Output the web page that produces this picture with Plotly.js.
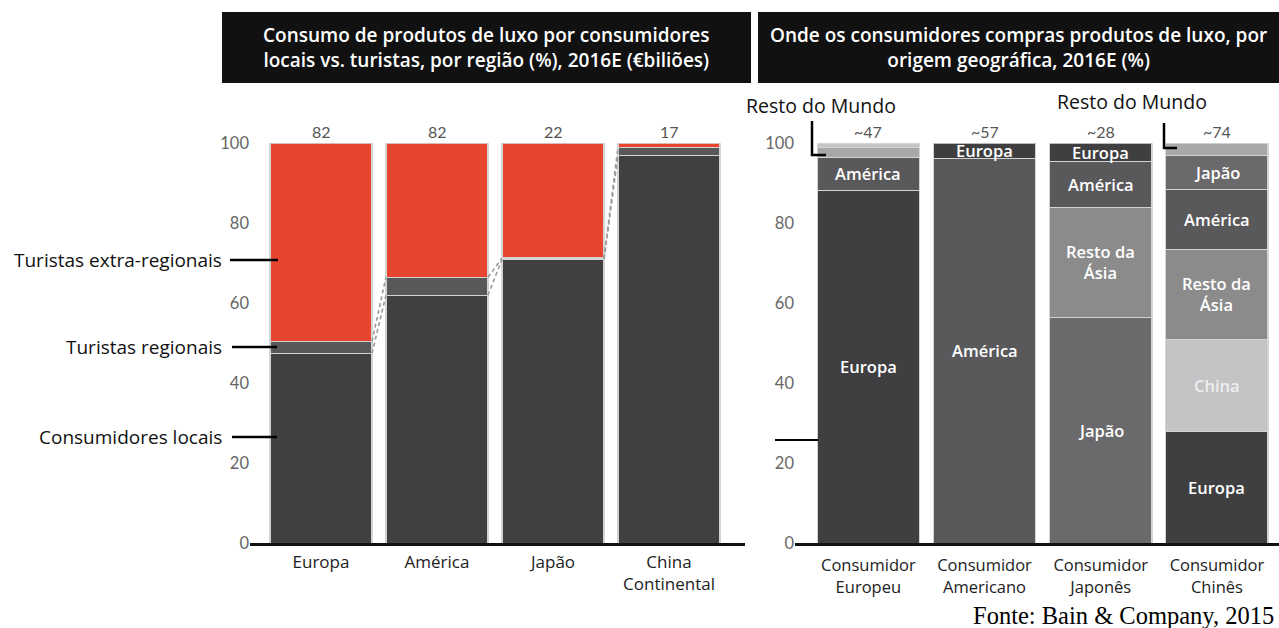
<!DOCTYPE html>
<html>
<head>
<meta charset="utf-8">
<script src="https://cdn.plot.ly/plotly-3.0.1.min.js"></script>
<style>html,body{margin:0;padding:0;background:#fff;}#chart{width:1279px;height:628px;}</style>
</head>
<body>
<div id="chart"></div>
<script>
// ---------- DATA ----------
// Left panel: consumption by local consumers vs tourists, by region (%)
const regions = ['Europa', 'América', 'Japão', 'China<br>Continental'];
const localShare = [47.5, 62, 71, 97];
const regionalShare = [3, 4.5, 0.3, 2];
const extraRegionalShare = [49.5, 33.5, 28.7, 1];
const regionTotals = [82, 82, 22, 17]; // €bn

// Right panel: where consumers buy, by geographic origin (%), bottom -> top
const consumers = ['Consumidor<br>Europeu', 'Consumidor<br>Americano', 'Consumidor<br>Japonês', 'Consumidor<br>Chinês'];
const consumerTotals = [47, 57, 28, 74]; // ~€bn
const europeuRegions = ['Europa', 'América', 'Resto do Mundo', 'China'];
const europeuShares = [88.2, 8.3, 2.5, 1];
const americanoRegions = ['América', 'Europa'];
const americanoShares = [96.2, 3.8];
const japonesRegions = ['Japão', 'Resto da Ásia', 'América', 'Europa'];
const japonesShares = [56.5, 27.5, 11.5, 4.5];
const chinesRegions = ['Europa', 'China', 'Resto da Ásia', 'América', 'Japão', 'Resto do Mundo'];
const chinesShares = [28, 23, 22.5, 15, 8.5, 3];

// ---------- STYLE ----------
const W = 1279, H = 628;
const px = x => x / W;
const py = y => 1 - y / H;
const BAR_W = 0.88;
const FONT = 'Open Sans, Noto Sans, sans-serif';
const NUMFONT = 'Lato, Open Sans, sans-serif';
const SEP = {color: '#d4d4d4', width: 1.3};
const regionColor = {
  'Europa': '#3f3f41',
  'América': '#59595b',
  'Japão': '#6a6a6c',
  'Resto da Ásia': '#8b8b8b',
  'China': '#c4c4c6',
  'Resto do Mundo': '#a8a8a8'
};
const labelText = {'Resto da Ásia': 'Resto da<br>Ásia'};
const labelColor = {'China': '#eeeeee'};

const idx = regions.map((_, i) => i);
const traces = [];

// Left stacked bars
[[localShare, '#404042', 'Consumidores locais'],
 [regionalShare, '#58585a', 'Turistas regionais'],
 [extraRegionalShare, '#e8452f', 'Turistas extra-regionais']].forEach(([vals, col, name]) => {
  traces.push({type: 'bar', x: idx, y: vals, width: BAR_W, name: name,
    marker: {color: col, line: SEP}, xaxis: 'x', yaxis: 'y', hoverinfo: 'skip'});
});

// Dashed connectors between consecutive bars (local top and regional top)
const cumLocal = localShare.slice();
const cumReg = localShare.map((v, i) => v + regionalShare[i]);
[cumLocal, cumReg].forEach(cum => {
  const xs = [], ys = [];
  for (let i = 0; i < cum.length - 1; i++) {
    xs.push(i + BAR_W / 2, i + 1 - BAR_W / 2, null);
    ys.push(cum[i], cum[i + 1], null);
  }
  traces.push({type: 'scatter', mode: 'lines', x: xs, y: ys, xaxis: 'x', yaxis: 'y',
    line: {color: '#9a9a9a', width: 1.6, dash: '4px,3px'}, hoverinfo: 'skip', connectgaps: false});
});

// Right stacked bars
const annotations = [];
const rightSets = [
  [europeuRegions, europeuShares],
  [americanoRegions, americanoShares],
  [japonesRegions, japonesShares],
  [chinesRegions, chinesShares]
];
rightSets.forEach(([regs, shares], ci) => {
  let base = 0;
  regs.forEach((r, j) => {
    traces.push({type: 'bar', x: [ci], y: [shares[j]], width: BAR_W, name: r,
      marker: {color: regionColor[r], line: SEP}, xaxis: 'x2', yaxis: 'y2', hoverinfo: 'skip'});
    if (shares[j] >= 3.5) {
      annotations.push({xref: 'x2', yref: 'y2', x: ci, y: base + shares[j] / 2,
        text: labelText[r] || r, showarrow: false,
        font: {family: FONT, size: 16.5, color: labelColor[r] || '#ffffff', weight: 600}});
    }
    base += shares[j];
  });
});

// Totals above bars
regionTotals.forEach((t, i) => annotations.push({xref: 'x', yref: 'y', x: i, y: 100, yanchor: 'bottom', yshift: 0,
  text: String(t), showarrow: false, font: {family: NUMFONT, size: 16, color: '#555'}}));
consumerTotals.forEach((t, i) => annotations.push({xref: 'x2', yref: 'y2', x: i, y: 100, yanchor: 'bottom', yshift: 0,
  text: '~' + t, showarrow: false, font: {family: NUMFONT, size: 16, color: '#555'}}));

// Titles
annotations.push({xref: 'paper', yref: 'paper', x: px(486), y: py(47.5), xanchor: 'center', yanchor: 'middle',
  text: 'Consumo de produtos de luxo por consumidores<br>locais vs. turistas, por região (%), 2016E (€biliões)',
  showarrow: false, align: 'center', font: {family: FONT, size: 19, color: '#ffffff', weight: 600}});
annotations.push({xref: 'paper', yref: 'paper', x: px(1018), y: py(47.5), xanchor: 'center', yanchor: 'middle',
  text: 'Onde os consumidores compras produtos de luxo, por<br>origem geográfica, 2016E (%)',
  showarrow: false, align: 'center', font: {family: FONT, size: 19, color: '#ffffff', weight: 600}});

// Left callout labels
[['Turistas extra-regionais', 260], ['Turistas regionais', 347], ['Consumidores locais', 437]].forEach(([t, y]) => {
  annotations.push({xref: 'paper', yref: 'paper', x: px(224), y: py(y), xanchor: 'right', yanchor: 'middle',
    text: t, showarrow: false, font: {family: FONT, size: 19, color: '#111'}});
});
// Right callouts
annotations.push({xref: 'paper', yref: 'paper', x: px(821), y: py(105), xanchor: 'center', yanchor: 'middle',
  text: 'Resto do Mundo', showarrow: false, font: {family: FONT, size: 19.5, color: '#111'}});
annotations.push({xref: 'paper', yref: 'paper', x: px(1132), y: py(101), xanchor: 'center', yanchor: 'middle',
  text: 'Resto do Mundo', showarrow: false, font: {family: FONT, size: 19.5, color: '#111'}});
// Source
annotations.push({xref: 'paper', yref: 'paper', x: px(1276), y: py(615), xanchor: 'right', yanchor: 'middle',
  text: 'Fonte: Bain &amp; Company, 2015', showarrow: false,
  font: {family: 'Liberation Serif, Times New Roman, serif', size: 24.5, color: '#000'}});

const shapes = [
  {type: 'rect', xref: 'paper', yref: 'paper', x0: px(222), x1: px(751), y0: py(83), y1: py(12),
    fillcolor: '#111111', line: {width: 0}, layer: 'below'},
  {type: 'rect', xref: 'paper', yref: 'paper', x0: px(758), x1: px(1279), y0: py(83), y1: py(12),
    fillcolor: '#111111', line: {width: 0}, layer: 'below'},
  {type: 'line', xref: 'paper', yref: 'paper', x0: px(230), x1: px(278), y0: py(260), y1: py(260), line: {color: '#000', width: 2.5}},
  {type: 'line', xref: 'paper', yref: 'paper', x0: px(232), x1: px(277), y0: py(347), y1: py(347), line: {color: '#000', width: 2.5}},
  {type: 'line', xref: 'paper', yref: 'paper', x0: px(232), x1: px(277), y0: py(437), y1: py(437), line: {color: '#000', width: 2.5}},
  {type: 'line', xref: 'paper', yref: 'paper', x0: px(775), x1: px(818), y0: py(440), y1: py(440), line: {color: '#000', width: 2}},
  {type: 'path', xref: 'paper', yref: 'paper',
    path: `M ${px(812)} ${py(121)} L ${px(812)} ${py(155)} L ${px(826)} ${py(155)}`, line: {color: '#000', width: 2.5}},
  {type: 'path', xref: 'paper', yref: 'paper',
    path: `M ${px(1164)} ${py(123)} L ${px(1164)} ${py(148)} L ${px(1177)} ${py(148)}`, line: {color: '#000', width: 2.5}}
];

const yAxisCommon = {range: [0, 100], tickvals: [0, 20, 40, 60, 80, 100], showgrid: false, zeroline: false,
  showline: false, ticks: '', tickfont: {family: NUMFONT, size: 16.5, color: '#666'}, fixedrange: true,
  domain: [py(543.3), py(143.3)]};

const layout = {
  width: W, height: H,
  margin: {l: 0, r: 0, t: 0, b: 0},
  paper_bgcolor: '#ffffff', plot_bgcolor: 'rgba(0,0,0,0)',
  barmode: 'stack', showlegend: false, hovermode: false,
  xaxis: {domain: [px(250), px(745)], range: [-0.612, 3.655], tickvals: idx, ticktext: regions,
    showgrid: false, zeroline: false, showline: true, linecolor: '#111', linewidth: 3, ticks: '',
    ticklabelstandoff: 1,
    tickfont: {family: FONT, size: 17, color: '#222'}, anchor: 'y', fixedrange: true},
  yaxis: Object.assign({anchor: 'x'}, yAxisCommon),
  xaxis2: {domain: [px(795), 1], range: [-0.631, 3.534], tickvals: idx, ticktext: consumers,
    showgrid: false, zeroline: false, showline: true, linecolor: '#111', linewidth: 3, ticks: '',
    ticklabelstandoff: 5,
    tickfont: {family: FONT, size: 16.5, color: '#222'}, anchor: 'y2', fixedrange: true},
  yaxis2: Object.assign({anchor: 'x2'}, yAxisCommon),
  annotations: annotations,
  shapes: shapes
};

Plotly.newPlot('chart', traces, layout, {staticPlot: true, displayModeBar: false});
</script>
</body>
</html>
